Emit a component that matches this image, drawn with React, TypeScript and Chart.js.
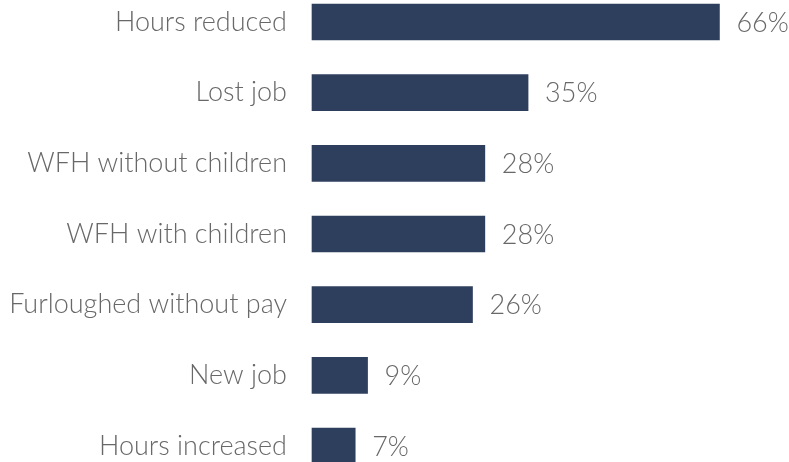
import React, { useEffect, useRef } from "react";
import { Chart, registerables } from "chart.js";

Chart.register(...registerables);

const categories = [
  "Hours reduced",
  "Lost job",
  "WFH without children",
  "WFH with children",
  "Furloughed without pay",
  "New job",
  "Hours increased",
];
const values = [66, 35, 28, 28, 26, 9, 7];

const BAR_COLOR = "#2e3f5d";
const TEXT_COLOR = "#686868";
const FONT_FAMILY = "Lato, 'Noto Sans', sans-serif";
const FONT_SIZE = 27;

const valueLabels = {
  id: "valueLabels",
  afterDatasetsDraw(chart: any) {
    const ctx = chart.ctx;
    const meta = chart.getDatasetMeta(0);
    ctx.save();
    ctx.font = `300 ${FONT_SIZE}px ${FONT_FAMILY}`;
    ctx.fillStyle = TEXT_COLOR;
    ctx.textAlign = "left";
    ctx.textBaseline = "middle";
    meta.data.forEach((bar: any, i: number) => {
      ctx.fillText(`${values[i]}%`, bar.x + 17, bar.y + 1);
    });
    ctx.restore();
  },
};

export default function App() {
  const ref = useRef<HTMLCanvasElement>(null);
  useEffect(() => {
    if (!ref.current) return;
    const chart = new Chart(ref.current, {
      type: "bar",
      data: {
        labels: categories,
        datasets: [
          {
            data: values,
            backgroundColor: BAR_COLOR,
            barThickness: 36,
            clip: false as any,
          },
        ],
      },
      options: {
        indexAxis: "y",
        animation: false,
        responsive: false,
        layout: { padding: { top: 22, bottom: 16, left: 0, right: 14 } },
        plugins: { legend: { display: false }, tooltip: { enabled: false } },
        scales: {
          x: { display: false, min: 0, max: 75 },
          y: {
            offset: false,
            grid: { display: false, drawTicks: false },
            border: { display: false },
            ticks: {
              padding: 25,
              color: TEXT_COLOR,
              font: { family: FONT_FAMILY, size: FONT_SIZE, weight: "300" as any },
            },
            afterFit(scale: any) {
              scale.width = 312;
              scale.paddingTop = 0;
              scale.paddingBottom = 0;
            },
          },
        },
      },
      plugins: [valueLabels],
    });
    return () => chart.destroy();
  }, []);
  return (
    <div style={{ position: "fixed", left: 0, top: 0, width: 789, height: 462, background: "#fff" }}>
      <canvas ref={ref} width={789} height={462} />
    </div>
  );
}
